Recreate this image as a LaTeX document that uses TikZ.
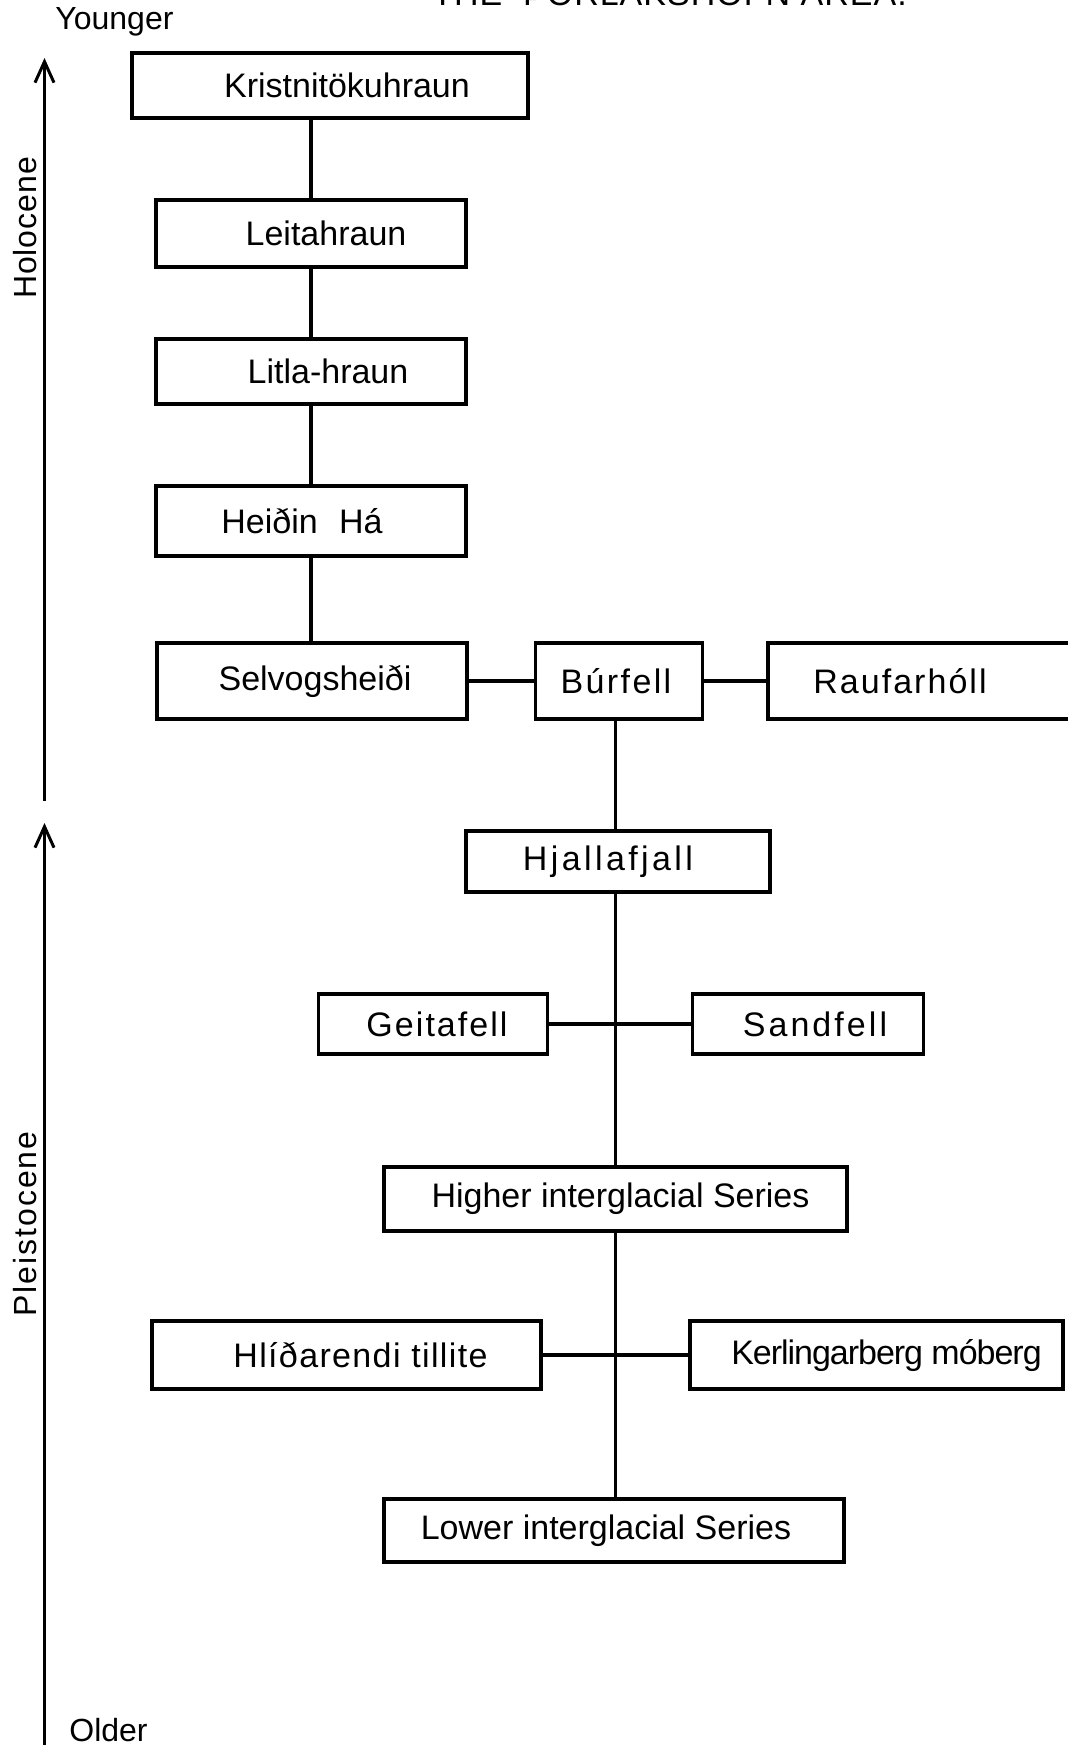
\documentclass[tikz,border=0pt]{standalone}
\usepackage{fontspec}
\setmainfont{Liberation Sans}
\usetikzlibrary{arrows.meta}
\newcommand{\ls}[2]{{\addfontfeatures{LetterSpace=#1}#2}}
\begin{document}
\begin{tikzpicture}[x=0.5pt,y=-0.5pt,
  box/.style={draw, line width=1.8pt, inner sep=0pt, font=\fontsize{17}{20}\selectfont},
  link/.style={line width=1.6pt},
  axis/.style={line width=1.5pt, -{Straight Barb[length=10.5pt,width=9.5pt,line width=1.5pt]}},
  side/.style={font=\fontsize{16}{19}\selectfont, inner sep=0pt}]
\useasboundingbox (0,0) rectangle (1067,1745);

% title (cut off at top edge, as in the reference)
\node[anchor=base west, inner sep=0pt, font=\fontsize{17}{20}\selectfont] (title) at (432,5) {\ls{3}{THE\hspace{0.3em} ÞORLÁKSHÖFN AREA.}};

% time axis
\coordinate (a1s) at (44.5,801);
\coordinate (a1e) at (44.5,58);
\coordinate (a2s) at (44.5,1750);
\coordinate (a2e) at (44.5,823);
\draw[axis] (a1s) -- (a1e);
\draw[axis] (a2s) -- (a2e);
\node[side, anchor=base west] (younger) at (55,29) {Younger};
\node[side, anchor=base west] (older) at (69,1741) {Older};
\node[side, rotate=90] (holo) at (25,228) {\ls{3}{Holocene}};
\node[side, rotate=90] (pleis) at (25,1224) {\ls{6}{Pleistocene}};

% boxes
\node[box, minimum width=198pt, minimum height=32.5pt] (krist) at (330,85.5) {\hspace*{17pt}Kristnitökuhraun};
\node[box, minimum width=155pt, minimum height=33.5pt] (leita) at (311,233.5) {\hspace*{15pt}Leitahraun};
\node[box, minimum width=155pt, minimum height=32.5pt] (litla) at (311,371.5) {\hspace*{17pt}Litla-hraun};
\node[box, minimum width=155pt, minimum height=35pt] (heidin) at (311,521) {Heiðin\hspace{0.35em} Há\hspace*{9pt}};
\node[box, minimum width=155pt, minimum height=38pt] (selv) at (312,681) {\hspace*{3pt}Selvogsheiði};
\node[box, minimum width=83.5pt, minimum height=38pt] (burf) at (619,681) {\ls{7}{Búrfell}\hspace*{3pt}};
\node[box, minimum width=166pt, minimum height=38pt] (rauf) at (934,681) {\ls{6}{Raufarhóll}\hspace*{34pt}};
\node[box, minimum width=152pt, minimum height=30.5pt] (hjalla) at (618,861.5) {\ls{10}{Hjallafjall}\hspace*{10pt}};
\node[box, minimum width=114.5pt, minimum height=30pt] (geita) at (433,1024) {\hspace*{4pt}\ls{6}{Geitafell}};
\node[box, minimum width=115.5pt, minimum height=30pt] (sand) at (808,1024) {\hspace*{7pt}\ls{9}{Sandfell}};
\node[box, minimum width=231.5pt, minimum height=32pt] (higher) at (615.5,1199) {\hspace*{5pt}Higher interglacial Series};
\node[box, minimum width=194.5pt, minimum height=34pt] (hlid) at (346.5,1355) {\hspace*{14pt}\ls{4}{Hlíðarendi tillite}};
\node[box, minimum width=186.5pt, minimum height=34pt] (kerl) at (876.5,1355) {\hspace*{10pt}\ls{-3}{Kerlingarberg móberg}};
\node[box, minimum width=230pt, minimum height=31.5pt] (lower) at (614,1530.5) {Lower interglacial Series\hspace*{8pt}};

% connectors
\draw[link] (leita.north |- krist.south) -- (leita.north);
\draw[link] (litla.north |- leita.south) -- (litla.north);
\draw[link] (heidin.north |- litla.south) -- (heidin.north);
\draw[link] (heidin.south) -- (heidin.south |- selv.north);
\draw[link] (selv.east) -- (burf.west);
\draw[link] (burf.east) -- (rauf.west);
\draw[link] (burf.south -| higher.north) -- (hjalla.north -| higher.north);
\draw[link] (hjalla.south -| higher.north) -- (higher.north);
\draw[link] (geita.east) -- (sand.west);
\draw[link] (higher.south) -- (lower.north -| higher.south);
\draw[link] (hlid.east) -- (kerl.west);
\end{tikzpicture}
\end{document}
